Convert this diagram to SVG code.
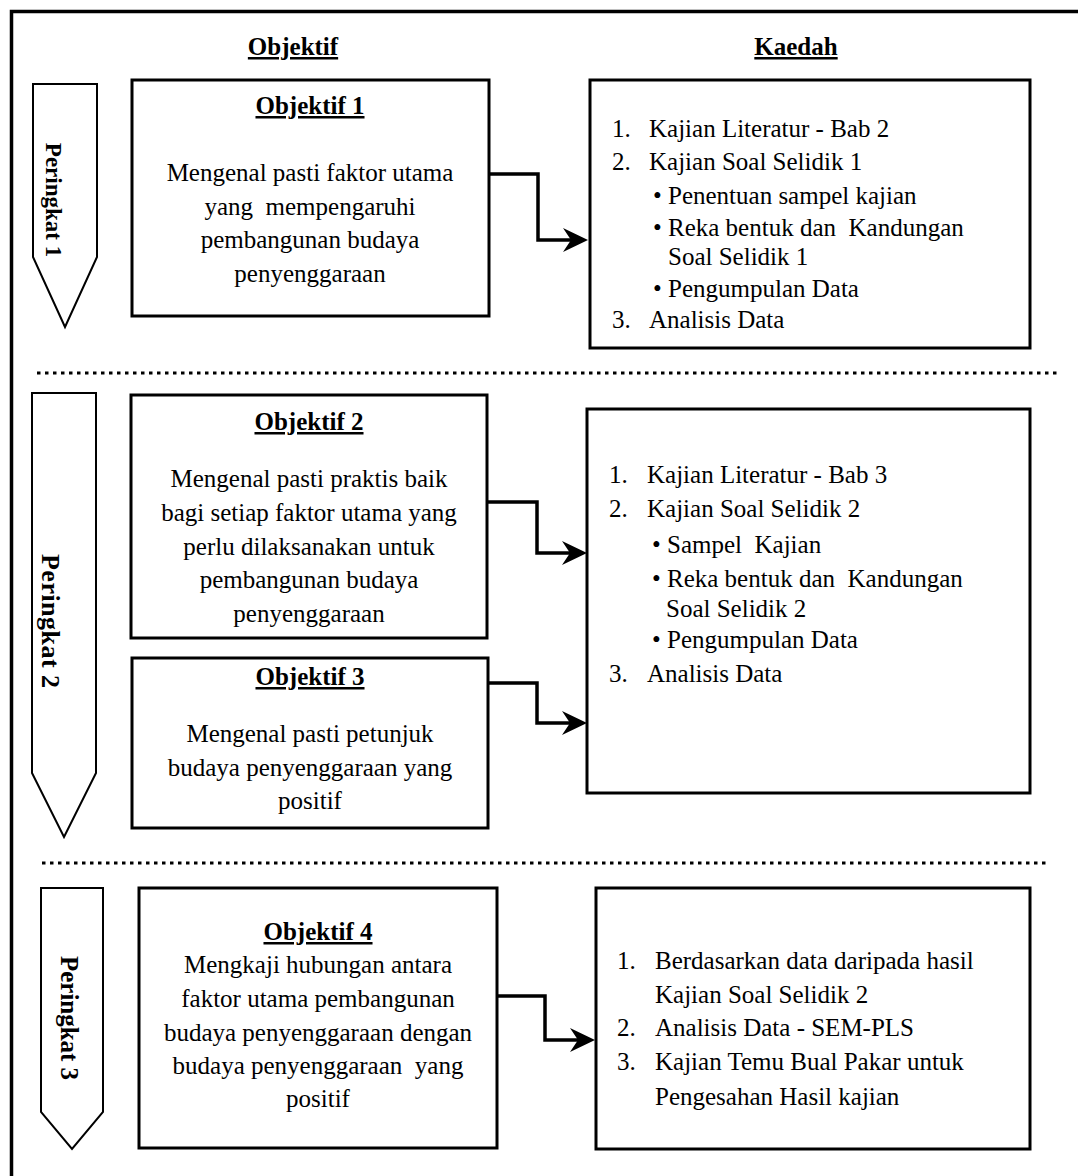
<svg xmlns="http://www.w3.org/2000/svg" width="1078" height="1176" viewBox="0 0 1078 1176">
<style>
text{font-family:"Liberation Serif","Times New Roman",serif;font-size:25px;fill:#000;white-space:pre}
.h{font-weight:bold;text-decoration:underline}
.c{text-anchor:middle}
.pk{font-weight:bold;text-anchor:middle}
.box{fill:#fff;stroke:#000;stroke-width:3}
.pent{fill:#fff;stroke:#000;stroke-width:2}
.dot{stroke:#000;stroke-width:3;stroke-dasharray:3.5 4.5;fill:none}
.conn{fill:none;stroke:#000;stroke-width:3.5;marker-end:url(#ah)}
</style>
<defs>
<marker id="ah" markerUnits="userSpaceOnUse" viewBox="0 0 25 24" refX="9" refY="12" markerWidth="25" markerHeight="24" orient="auto">
<path d="M0,0 L25,12 L0,24 L8,12 Z" fill="#000"/>
</marker>
</defs>
<rect width="1078" height="1176" fill="#fff"/>
<rect x="11.5" y="11.5" width="1100" height="1200" fill="none" stroke="#000" stroke-width="3.5"/>

<g id="headers">
<text class="h c" x="293" y="55">Objektif</text>
<text class="h c" x="796" y="55">Kaedah</text>
</g>

<g id="separators">
<line class="dot" x1="37" y1="373" x2="1057" y2="373"/>
<line class="dot" x1="42" y1="863" x2="1048" y2="863"/>
</g>

<g id="peringkat1">
<path class="pent" d="M33,84 L97,84 L97,257 L65,327 L33,257 Z"/>
<text class="pk" style="font-size:23px" transform="translate(46,200) rotate(90)">Peringkat 1</text>
</g>
<g id="peringkat2">
<path class="pent" d="M32,393 L96,393 L96,773 L64,837 L32,773 Z"/>
<text class="pk" style="font-size:26px" transform="translate(42,621) rotate(90)" textLength="134" lengthAdjust="spacing">Peringkat 2</text>
</g>
<g id="peringkat3">
<path class="pent" d="M41,888 L103,888 L103,1112 L72,1149 L41,1112 Z"/>
<text class="pk" style="font-size:25px" transform="translate(61,1018) rotate(90)" textLength="124" lengthAdjust="spacing">Peringkat 3</text>
</g>

<g id="objektif1">
<rect class="box" x="132" y="80" width="357" height="236"/>
<text class="h c" x="310" y="114">Objektif 1</text>
<text class="c" x="310" y="181">Mengenal pasti faktor utama</text>
<text class="c" x="310" y="215">yang  mempengaruhi</text>
<text class="c" x="310" y="248">pembangunan budaya</text>
<text class="c" x="310" y="282">penyenggaraan</text>
</g>

<g id="objektif2">
<rect class="box" x="131" y="395" width="356" height="243"/>
<text class="h c" x="309" y="430">Objektif 2</text>
<text class="c" x="309" y="487">Mengenal pasti praktis baik</text>
<text class="c" x="309" y="521">bagi setiap faktor utama yang</text>
<text class="c" x="309" y="555">perlu dilaksanakan untuk</text>
<text class="c" x="309" y="588">pembangunan budaya</text>
<text class="c" x="309" y="622">penyenggaraan</text>
</g>

<g id="objektif3">
<rect class="box" x="132" y="658" width="356" height="170"/>
<text class="h c" x="310" y="685">Objektif 3</text>
<text class="c" x="310" y="742">Mengenal pasti petunjuk</text>
<text class="c" x="310" y="776">budaya penyenggaraan yang</text>
<text class="c" x="310" y="809">positif</text>
</g>

<g id="objektif4">
<rect class="box" x="139" y="888" width="358" height="260"/>
<text class="h c" x="318" y="940">Objektif 4</text>
<text class="c" x="318" y="973">Mengkaji hubungan antara</text>
<text class="c" x="318" y="1007">faktor utama pembangunan</text>
<text class="c" x="318" y="1041">budaya penyenggaraan dengan</text>
<text class="c" x="318" y="1074">budaya penyenggaraan  yang</text>
<text class="c" x="318" y="1107">positif</text>
</g>

<g id="kaedah1">
<rect class="box" x="590" y="80" width="440" height="268"/>
<text x="612" y="137">1.</text><text x="649" y="137">Kajian Literatur - Bab 2</text>
<text x="612" y="170">2.</text><text x="649" y="170">Kajian Soal Selidik 1</text>
<text x="653" y="204">• Penentuan sampel kajian</text>
<text x="653" y="236">• Reka bentuk dan  Kandungan</text>
<text x="668" y="265">Soal Selidik 1</text>
<text x="653" y="297">• Pengumpulan Data</text>
<text x="612" y="328">3.</text><text x="649" y="328">Analisis Data</text>
</g>

<g id="kaedah2">
<rect class="box" x="587" y="409" width="443" height="384"/>
<text x="609" y="483">1.</text><text x="647" y="483">Kajian Literatur - Bab 3</text>
<text x="609" y="517">2.</text><text x="647" y="517">Kajian Soal Selidik 2</text>
<text x="652" y="553">• Sampel  Kajian</text>
<text x="652" y="587">• Reka bentuk dan  Kandungan</text>
<text x="666" y="617">Soal Selidik 2</text>
<text x="652" y="648">• Pengumpulan Data</text>
<text x="609" y="682">3.</text><text x="647" y="682">Analisis Data</text>
</g>

<g id="kaedah3">
<rect class="box" x="596" y="888" width="434" height="261"/>
<text x="617" y="969">1.</text><text x="655" y="969">Berdasarkan data daripada hasil</text>
<text x="655" y="1003">Kajian Soal Selidik 2</text>
<text x="617" y="1036">2.</text><text x="655" y="1036">Analisis Data - SEM-PLS</text>
<text x="617" y="1070">3.</text><text x="655" y="1070">Kajian Temu Bual Pakar untuk</text>
<text x="655" y="1105">Pengesahan Hasil kajian</text>
</g>

<g id="connectors">
<path class="conn" d="M489,174 H538 V240 H572"/>
<path class="conn" d="M487,502 H537 V553 H571"/>
<path class="conn" d="M488,683 H537 V723 H571"/>
<path class="conn" d="M497,996 H545 V1040 H579"/>
</g>
</svg>
